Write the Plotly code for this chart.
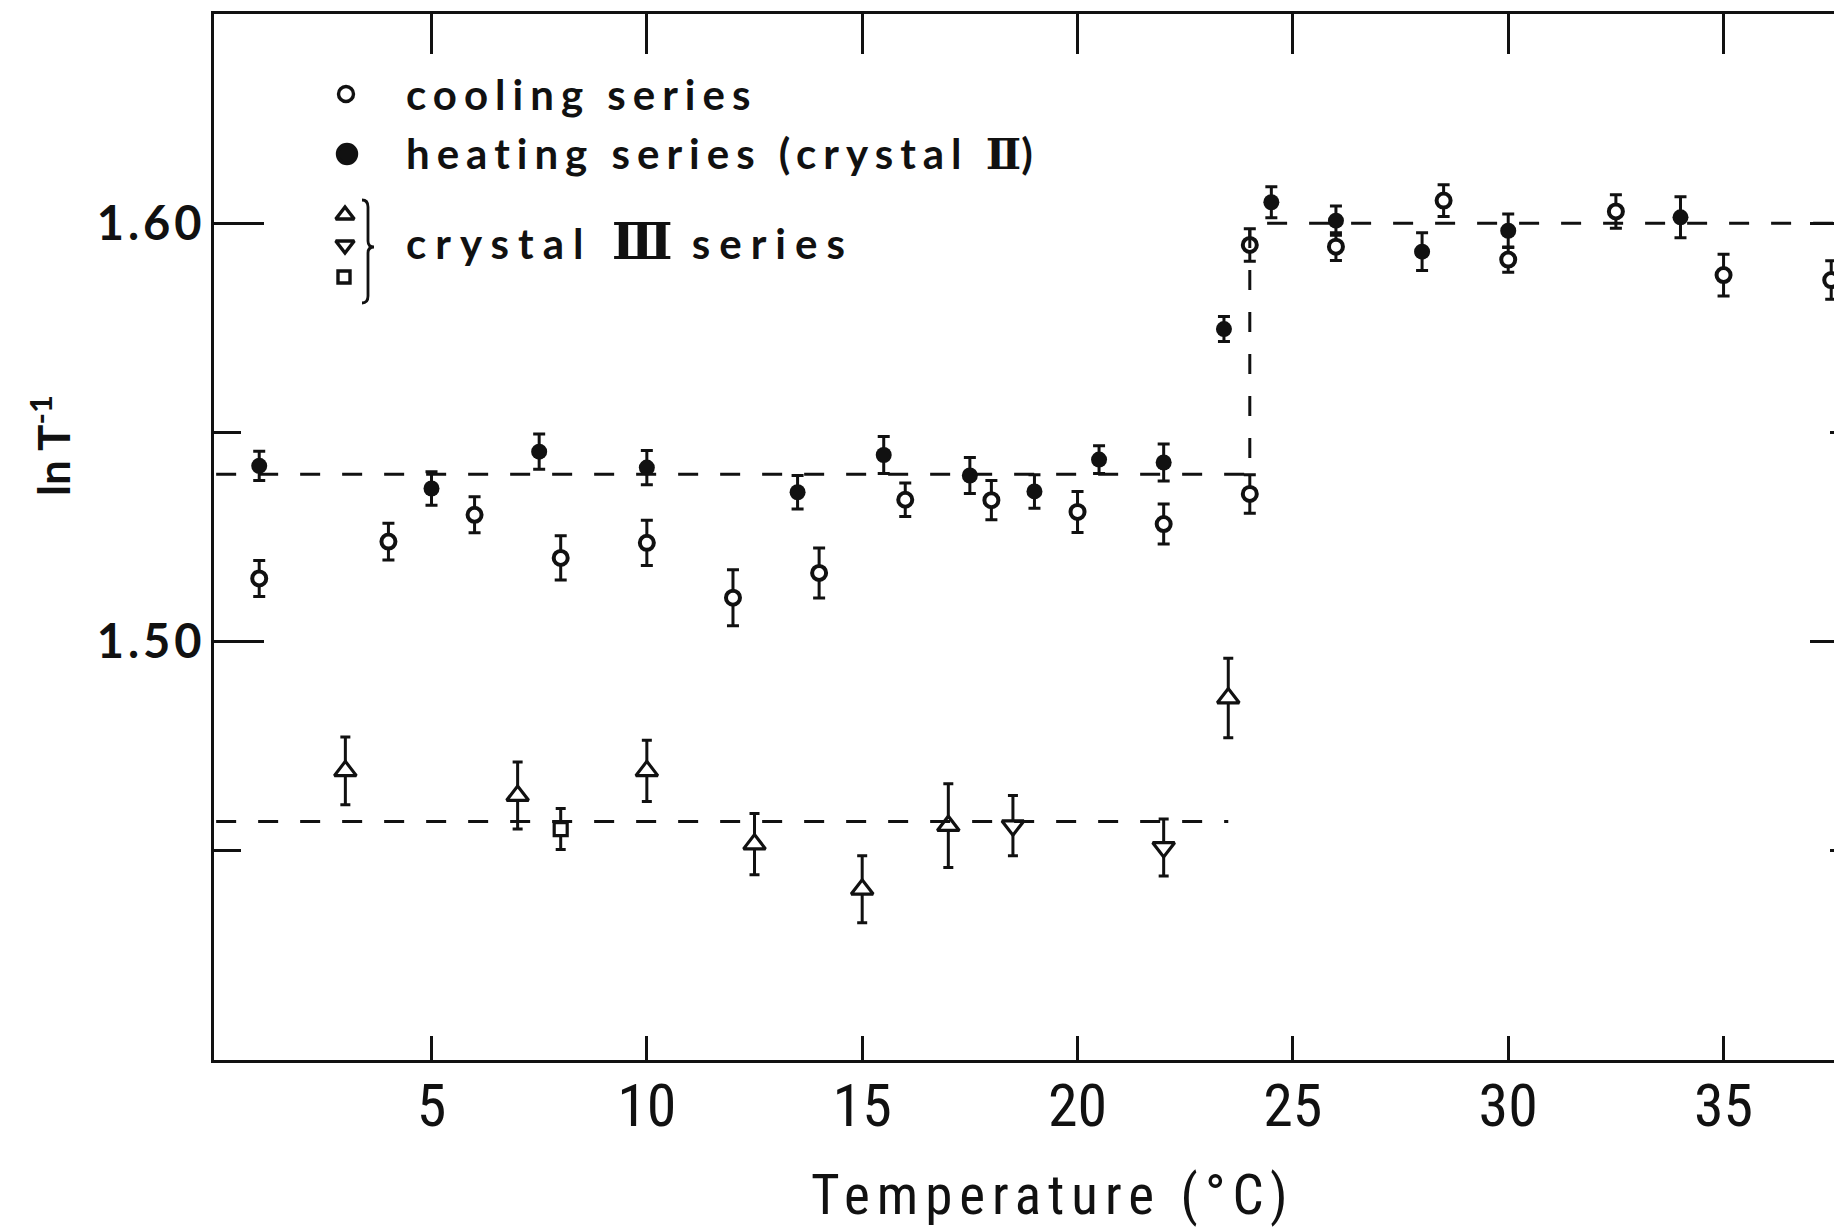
import plotly.graph_objects as go

# ---------------- data ----------------
heat_x = [1, 5, 7.5, 10, 13.5, 15.5, 17.5, 19, 20.5, 22, 23.4, 24.5, 26, 28, 30, 34]
heat_y = [1.5420, 1.5366, 1.5454, 1.5416, 1.5357, 1.5446, 1.5397, 1.5359, 1.5435, 1.5428,
          1.5747, 1.6050, 1.6006, 1.5932, 1.5982, 1.6014]
heat_err = [0.0035, 0.0040, 0.0042, 0.0041, 0.0040, 0.0044, 0.0043, 0.0040, 0.0033, 0.0044,
            0.0030, 0.0037, 0.0035, 0.0045, 0.0040, 0.0049]

cool_x = [1, 4, 6, 8, 10, 12, 14, 16, 18, 20, 22, 24, 24, 26, 28.5, 30, 32.5, 35, 37.5]
cool_y = [1.5151, 1.5239, 1.5303, 1.5200, 1.5236, 1.5105, 1.5164, 1.5339, 1.5338, 1.5310,
          1.5281, 1.5353, 1.5948, 1.5944, 1.6054, 1.5913, 1.6028, 1.5876, 1.5864]
cool_err = [0.0043, 0.0044, 0.0043, 0.0053, 0.0054, 0.0067, 0.0060, 0.0040, 0.0047, 0.0049,
            0.0048, 0.0046, 0.0039, 0.0033, 0.0038, 0.0030, 0.0040, 0.0050, 0.0046]

c3up_x = [3, 7, 10, 12.5, 15, 17, 23.5]
c3up_y = [1.4691, 1.4632, 1.4691, 1.4516, 1.4408, 1.4560, 1.4865]
c3up_err = [0.0081, 0.0080, 0.0073, 0.0073, 0.0080, 0.0100, 0.0095]

c3down_x = [18.5, 22]
c3down_y = [1.4560, 1.4508]
c3down_err = [0.0072, 0.0068]

c3sq_x = [8]
c3sq_y = [1.4552]
c3sq_err = [0.0049]

# step (fit) lines
fit2_x = [0, 24, 24, 38]
fit2_y = [1.54, 1.54, 1.60, 1.60]
fit3_x = [0, 23.5]
fit3_y = [1.457, 1.457]

x_range = [-0.05, 37.75]
y_range = [1.40, 1.65]
x_ticks = [5, 10, 15, 20, 25, 30, 35]
x_ticklabels = ["5", "10", "15", "20", "25", "30", "35"]
y_ticks = [1.50, 1.60]
y_ticklabels = ["1.50", "1.60"]
y_minor = [1.45, 1.55]

# ---------------- figure geometry (window pixels) ----------------
OFF = 8                      # default page margin of the html body
WIN_W, WIN_H = 1842, 1230
W, H = WIN_W - OFF, WIN_H - OFF
PX0, PX1 = 214, 1842         # plot area in window pixels
PY0, PY1 = 14, 1060
L, R = PX0 - OFF, WIN_W - PX1
T, B = PY0 - OFF, WIN_H - PY1


def px(X):
    return (X - PX0) / (PX1 - PX0)


def py(Y):
    return (PY1 - Y) / (PY1 - PY0)


BLACK = "#111111"
FONT = "Lato"
NARROW = "Liberation Sans Narrow, Roboto Condensed, Lato"

fig = go.Figure()

dash = "20px,22px"
fig.add_trace(go.Scatter(x=fit2_x, y=fit2_y, mode="lines", xaxis="x2", yaxis="y2",
                         line=dict(color=BLACK, width=3, dash=dash), hoverinfo="skip"))
fig.add_trace(go.Scatter(x=fit3_x, y=fit3_y, mode="lines", xaxis="x2", yaxis="y2",
                         line=dict(color=BLACK, width=3, dash=dash), hoverinfo="skip"))


def err(vals, w):
    return dict(type="data", array=vals, visible=True, color=BLACK, thickness=3, width=w)


fig.add_trace(go.Scatter(x=c3up_x, y=c3up_y, mode="markers", name="crystal III (a)",
                         error_y=err(c3up_err, 5),
                         marker=dict(symbol="triangle-up", size=19, color="white",
                                     line=dict(color=BLACK, width=3.2))))
fig.add_trace(go.Scatter(x=c3down_x, y=c3down_y, mode="markers", name="crystal III (b)",
                         error_y=err(c3down_err, 5),
                         marker=dict(symbol="triangle-down", size=19, color="white",
                                     line=dict(color=BLACK, width=3.2))))
fig.add_trace(go.Scatter(x=c3sq_x, y=c3sq_y, mode="markers", name="crystal III (c)",
                         error_y=err(c3sq_err, 5),
                         marker=dict(symbol="square", size=13, color="white",
                                     line=dict(color=BLACK, width=3.2))))
fig.add_trace(go.Scatter(x=cool_x, y=cool_y, mode="markers", name="cooling series",
                         error_y=err(cool_err, 6),
                         marker=dict(symbol="circle", size=14, color="white",
                                     line=dict(color=BLACK, width=4))))
fig.add_trace(go.Scatter(x=heat_x, y=heat_y, mode="markers", name="heating series",
                         error_y=err(heat_err, 6),
                         marker=dict(symbol="circle", size=16, color=BLACK,
                                     line=dict(color=BLACK, width=0))))

# legend keys, placed in a pixel-unit overlay axis (window pixels)
key_style = [
    ("circle", 15, "white", 346, 94),
    ("circle", 19, BLACK, 347, 154),
    ("triangle-up", 16, "white", 345, 215),
    ("triangle-down", 16, "white", 345, 245),
    ("square", 12, "white", 344, 277),
]
for sym, size, col, X, Y in key_style:
    fig.add_trace(go.Scatter(x=[X], y=[Y], mode="markers", xaxis="x3", yaxis="y3",
                             hoverinfo="skip", cliponaxis=False,
                             marker=dict(symbol=sym, size=size, color=col,
                                         line=dict(color=BLACK, width=3.4))))

axis_common = dict(showgrid=False, zeroline=False, linecolor=BLACK, tickcolor=BLACK,
                   automargin=False)

fig.update_layout(
    width=W, height=H,
    margin=dict(l=L, r=R, t=T, b=B, autoexpand=False),
    paper_bgcolor="white", plot_bgcolor="white",
    showlegend=False,
    xaxis=dict(range=x_range, showline=True, linewidth=3, mirror=True,
               ticks="inside", ticklen=24, tickwidth=3,
               tickmode="array", tickvals=x_ticks, ticktext=x_ticklabels, ticklabelstandoff=-9,
               tickfont=dict(family=NARROW, size=60, color=BLACK), **axis_common),
    xaxis2=dict(overlaying="x", range=x_range, side="top", anchor="y",
                ticks="inside", ticklen=40, tickwidth=3, tickmode="array", tickvals=x_ticks,
                showticklabels=False, showline=False, **axis_common),
    yaxis=dict(range=y_range, showline=True, linewidth=3, mirror=False,
               ticks="inside", ticklen=50, tickwidth=3,
               tickmode="array", tickvals=y_ticks,
               ticktext=[f"<span style='letter-spacing:4px'>{t}</span>" for t in y_ticklabels],
               ticklabelstandoff=-4,
               minor=dict(ticks="inside", ticklen=27, tickwidth=3, tickmode="array",
                          tickvals=y_minor, tickcolor=BLACK, showgrid=False),
               tickfont=dict(family=FONT, size=47, color=BLACK, weight="bold"), **axis_common),
    yaxis2=dict(overlaying="y", range=y_range, side="right", anchor="x",
                ticks="inside", ticklen=32, tickwidth=3, tickmode="array", tickvals=y_ticks,
                minor=dict(ticks="inside", ticklen=12, tickwidth=3, tickmode="array",
                           tickvals=y_minor, tickcolor=BLACK, showgrid=False),
                showticklabels=False, showline=False, **axis_common),
    xaxis3=dict(overlaying="x", range=[PX0, PX1], visible=False, anchor="y3"),
    yaxis3=dict(overlaying="y", range=[PY1, PY0], visible=False, anchor="x3"),
)

# legend text
legend_font = dict(family=FONT, size=42, color=BLACK, weight="bold")
sp = "letter-spacing:7px"
roman = "font-family:DejaVu Serif;font-weight:bold;letter-spacing:0px"
legend_items = [
    ("cooling series", 94, sp),
    (f"heating series (crystal <span style='{roman}'>Ⅱ</span>)", 153, sp),
    (f"crystal <span style='{roman};font-size:50px'>Ⅲ</span> series", 242, "letter-spacing:9px"),
]
for txt, Y, s in legend_items:
    fig.add_annotation(text=f"<span style='{s}'>{txt}</span>", xref="paper", yref="paper",
                       x=px(404), y=py(Y), xanchor="left", yanchor="middle",
                       showarrow=False, font=legend_font)

# brace
bx0, bx1, bx2 = 362, 368, 374
yt, ym, yb = 200, 247, 303
path = (f"M {bx0},{yt} Q {bx1},{yt} {bx1},{yt+7} L {bx1},{ym-6} Q {bx1},{ym} {bx2},{ym} "
        f"Q {bx1},{ym} {bx1},{ym+6} L {bx1},{yb-7} Q {bx1},{yb} {bx0},{yb}")
fig.add_shape(type="path", path=path, xref="x3", yref="y3",
              line=dict(color=BLACK, width=2.8))

# axis titles
fig.add_annotation(text="<span style='letter-spacing:7px'>Temperature (°C)</span>",
                   xref="paper", yref="paper", x=px(1052), y=py(1195),
                   xanchor="center", yanchor="middle", showarrow=False,
                   font=dict(family=NARROW, size=55, color=BLACK))
fig.add_annotation(text="ln T<sup>-1</sup>", xref="paper", yref="paper",
                   x=px(50), y=py(446), xanchor="center", yanchor="middle",
                   textangle=-90, showarrow=False,
                   font=dict(family=FONT, size=44, color=BLACK, weight="bold"))

fig.write_html("out.html")
